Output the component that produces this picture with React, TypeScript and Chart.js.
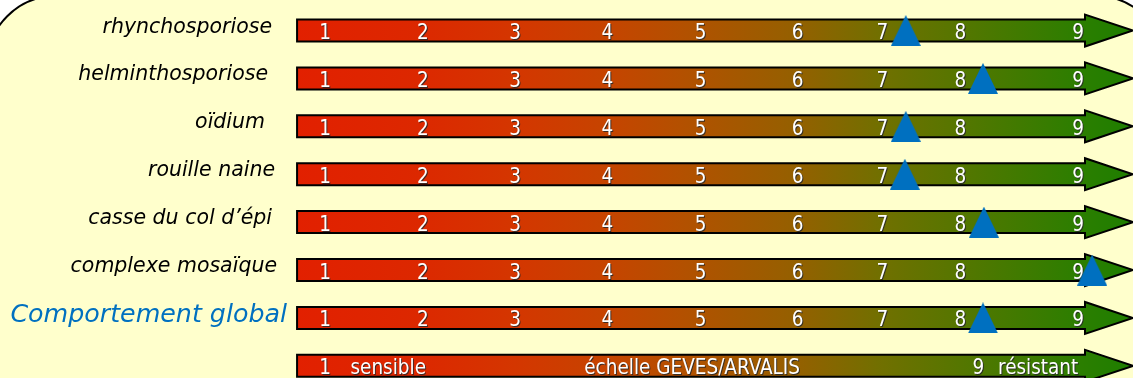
import React, { useEffect, useRef } from 'react';
import { Chart, registerables } from 'chart.js';

Chart.register(...registerables);

// ---- data ----
const criteria = [
  'rhynchosporiose',
  'helminthosporiose',
  'oïdium',
  'rouille naine',
  'casse du col d\u2019épi',
  'complexe mosaïque',
  'Comportement global',
];
// score of each criterion on the 1-9 GEVES/ARVALIS scale (triangle position)
const scores = [7.17, 7.99, 7.17, 7.16, 8.0, 9.15, 7.99];
// scale digits written on each arrow and where they sit on the score axis
const scaleDigits = ['1', '2', '3', '4', '5', '6', '7', '8', '9'];
const digitPositions = [1, 2.04, 3.02, 4.0, 4.99, 6.02, 6.92, 7.75, 9];
// bottom legend arrow texts
const legendTexts = ['1', 'sensible', 'échelle GEVES/ARVALIS', '9', 'résistant'];
const legendPositions = [1, 1.27, 4.9, 7.94, 8.15];
const legendAligns: CanvasTextAlign[] = ['center', 'left', 'center', 'center', 'left'];
// arrow extent on the score axis
const arrowStart = 0.703;
const arrowHeadStart = 9.074;
const arrowTip = 9.584;

// ---- layout / style ----
const W = 1133;
const H = 378;
const labelRight = [272, 268, 265, 275, 272, 277, 287];
const gradientStops: [number, string][] = [
  [0, '#E22000'],
  [0.147, '#DC2800'],
  [0.26, '#D43600'],
  [0.37, '#C64400'],
  [0.458, '#B45000'],
  [0.598, '#946000'],
  [0.7, '#707000'],
  [0.793, '#557600'],
  [0.934, '#2C7E00'],
  [1, '#1E7E00'],
];
const TRI_BLUE = '#0070C0';
const NUM_FONT = '20.5px "DejaVu Sans Condensed", "DejaVu Sans", sans-serif';
const LABEL_FONT = 'italic 20.5px "DejaVu Sans", sans-serif';
const GLOBAL_FONT = 'italic 25.3px "DejaVu Sans", sans-serif';

function makeTriangle(): HTMLCanvasElement {
  const c = document.createElement('canvas');
  c.width = 30;
  c.height = 31;
  const g = c.getContext('2d')!;
  g.fillStyle = TRI_BLUE;
  g.beginPath();
  g.moveTo(15, 0);
  g.lineTo(30, 31);
  g.lineTo(0, 31);
  g.closePath();
  g.fill();
  return c;
}

const decorPlugin = {
  id: 'decor',
  beforeDraw(chart: any) {
    const ctx: CanvasRenderingContext2D = chart.ctx;
    ctx.save();
    ctx.fillStyle = '#ffffff';
    ctx.fillRect(0, 0, chart.width, chart.height);
    const x = -13, y = -4, w = 1178, h = 520, r = 69;
    ctx.beginPath();
    ctx.moveTo(x + r, y);
    ctx.lineTo(x + w - r, y);
    ctx.arc(x + w - r, y + r, r, -Math.PI / 2, 0);
    ctx.lineTo(x + w, y + h - r);
    ctx.arc(x + w - r, y + h - r, r, 0, Math.PI / 2);
    ctx.lineTo(x + r, y + h);
    ctx.arc(x + r, y + h - r, r, Math.PI / 2, Math.PI);
    ctx.lineTo(x, y + r);
    ctx.arc(x + r, y + r, r, Math.PI, Math.PI * 1.5);
    ctx.closePath();
    ctx.fillStyle = '#FFFFCC';
    ctx.fill();
    ctx.lineWidth = 2;
    ctx.strokeStyle = '#000000';
    ctx.stroke();
    ctx.restore();
  },
  beforeDatasetsDraw(chart: any) {
    const ctx: CanvasRenderingContext2D = chart.ctx;
    const xs = chart.scales.x;
    const ys = chart.scales.y;
    const x0 = xs.getPixelForValue(arrowStart);
    const xh = xs.getPixelForValue(arrowHeadStart);
    const xt = xs.getPixelForValue(arrowTip);
    const rows = criteria.length + 1;
    ctx.save();
    for (let i = 0; i < rows; i++) {
      const cy = ys.getPixelForValue(i);
      const grad = ctx.createLinearGradient(x0, 0, xt, 0);
      gradientStops.forEach(([o, c]) => grad.addColorStop(o, c));
      ctx.beginPath();
      ctx.moveTo(x0, cy - 11);
      ctx.lineTo(xh, cy - 11);
      ctx.lineTo(xh, cy - 16);
      ctx.lineTo(xt, cy);
      ctx.lineTo(xh, cy + 16);
      ctx.lineTo(xh, cy + 11);
      ctx.lineTo(x0, cy + 11);
      ctx.closePath();
      ctx.fillStyle = grad;
      ctx.fill();
      ctx.lineWidth = 2;
      ctx.lineJoin = 'miter';
      ctx.strokeStyle = '#000000';
      ctx.stroke();

      // texts on arrow
      ctx.font = NUM_FONT;
      ctx.textBaseline = 'alphabetic';
      ctx.fillStyle = '#ffffff';
      ctx.shadowColor = 'rgba(40,40,40,0.85)';
      ctx.shadowOffsetX = 1;
      ctx.shadowOffsetY = 1;
      ctx.shadowBlur = 0;
      if (i < criteria.length) {
        ctx.textAlign = 'center';
        scaleDigits.forEach((d, k) => {
          ctx.fillText(d, xs.getPixelForValue(digitPositions[k]), cy + 8.5);
        });
      } else {
        legendTexts.forEach((t, k) => {
          ctx.textAlign = legendAligns[k];
          ctx.fillText(t, xs.getPixelForValue(legendPositions[k]), cy + 8.5);
        });
      }
      ctx.shadowColor = 'transparent';
      ctx.shadowOffsetX = 0;
      ctx.shadowOffsetY = 0;

      // left labels
      if (i < criteria.length) {
        const isGlobal = i === criteria.length - 1;
        ctx.font = isGlobal ? GLOBAL_FONT : LABEL_FONT;
        ctx.fillStyle = isGlobal ? TRI_BLUE : '#000000';
        ctx.textAlign = 'right';
        ctx.fillText(criteria[i], labelRight[i], cy + (isGlobal ? 4.5 : 2));
      }
    }
    ctx.restore();
  },
};

export default function App() {
  const ref = useRef<HTMLCanvasElement | null>(null);
  useEffect(() => {
    if (!ref.current) return;
    const tri = makeTriangle();
    const chart = new Chart(ref.current, {
      type: 'scatter',
      data: {
        datasets: [
          {
            label: 'note',
            data: scores.map((s, i) => ({ x: s, y: i })),
            pointStyle: tri as any,
            pointRadius: 15,
            backgroundColor: TRI_BLUE,
            borderColor: TRI_BLUE,
          },
        ],
      },
      options: {
        animation: false,
        responsive: false,
        devicePixelRatio: 1,
        layout: { padding: 0, autoPadding: false },
        events: [],
        plugins: { legend: { display: false }, tooltip: { enabled: false } },
        scales: {
          x: { type: 'linear', display: false, min: -2.453, max: 9.584 },
          y: { type: 'linear', display: false, reverse: true, min: -0.637, max: 7.254 },
        },
      },
      plugins: [decorPlugin],
    });
    return () => chart.destroy();
  }, []);
  return (
    <div style={{ position: 'fixed', left: 0, top: 0, width: W, height: H }}>
      <canvas ref={ref} width={W} height={H} style={{ display: 'block' }} />
    </div>
  );
}
